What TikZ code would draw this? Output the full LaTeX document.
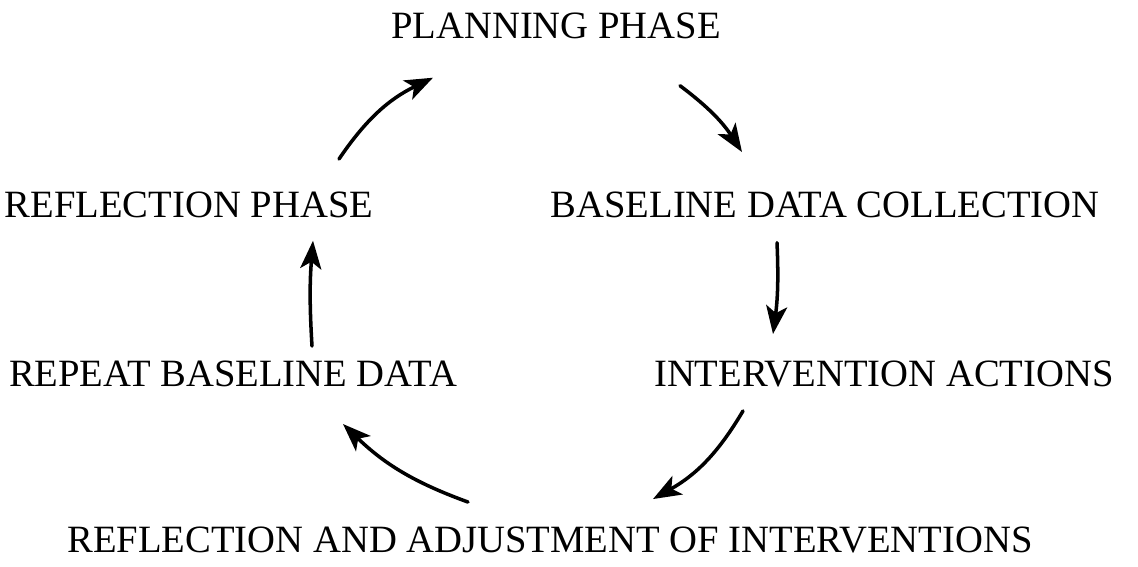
\documentclass[tikz,border=0pt]{standalone}
\usepackage{fontspec}
\setmainfont{Liberation Serif}
\usetikzlibrary{arrows.meta,positioning,calc}
\tikzset{
    >={Stealth[length=16pt,width=12pt,inset=4pt]},
    phase/.style={inner sep=0pt,font=\fontsize{22}{26}\selectfont},
    cyc/.style={->,line width=2pt,line cap=round}
}

\begin{document}
\begin{tikzpicture}[x=0.02cm,y=0.02cm]
        \useasboundingbox (0,0) rectangle (1138,567);

        % Stages of the cycle
        \node[phase,anchor=base] (plan) at (556,528) {PLANNING PHASE};
        \node[phase,anchor=base] (base) at (825,349) {BASELINE DATA COLLECTION};
        \node[phase,anchor=base] (interv) at (884,180) {INTERVENTION ACTIONS};
        \node[phase,anchor=base] (adjust) at (550,14) {REFLECTION AND ADJUSTMENT OF INTERVENTIONS};
        \node[phase,anchor=base] (repeat) at (233,180) {REPEAT BASELINE DATA};
        \node[phase,anchor=base] (reflect) at (189,349) {REFLECTION PHASE};

        % Arrows round the cycle
        \draw[cyc] ([shift={(150,33)}]reflect.north) to[bend left=15] ([shift={(-123,-38)}]plan.south);
        \draw[cyc] ([shift={(124,-46)}]plan.south) to[bend left=10] ([shift={(-83,40)}]base.north);
        \draw[cyc] ([shift={(-48,-24)}]base.south) to[bend left=5] ([shift={(-111,27)}]interv.north);
        \draw[cyc] ([shift={(-141,-23)}]interv.south) to[bend left=15] ([shift={(103,28)}]adjust.north);
        \draw[cyc] ([shift={(-82,25)}]adjust.north) to[bend left=12] ([shift={(110,-63)}]repeat.north);
        \draw[cyc] ([shift={(79,15)}]repeat.north) to[bend left=4] ([shift={(124,-22)}]reflect.south);
    \end{tikzpicture}
\end{document}
